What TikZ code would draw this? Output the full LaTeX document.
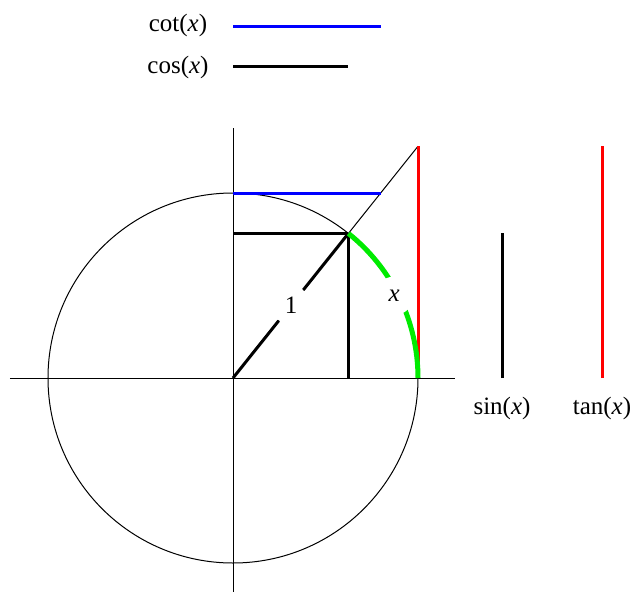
\documentclass[tikz,border=0pt]{standalone}
\usepackage{fontspec}
\setmainfont{Liberation Serif}
\usepackage{xcolor}
\usetikzlibrary{positioning}
\definecolor{arcgreen}{RGB}{0, 235, 0}
\definecolor{cotblue}{RGB}{0, 0, 255}
\definecolor{tanred}{RGB}{255, 0, 0}

\begin{document}
\begin{tikzpicture}[x=0.4pt, y=0.4pt,
    every node/.style={font=\fontsize{10}{12}\selectfont},
    thinline/.style={line width=0.4pt},
    fatline/.style={line width=1.2pt},
    gaplabel/.style={circle, fill=white, inner sep=0pt, minimum size=15.4pt}]
    % Picture frame
    \useasboundingbox (-233,-216) rectangle (399,378);

    % Angle and radius
    \def\ang{51.4}
    \def\rad{185}
    \pgfmathsetmacro{\cosv}{\rad*cos(\ang)}
    \pgfmathsetmacro{\sinv}{\rad*sin(\ang)}
    \pgfmathsetmacro{\tanv}{\rad*tan(\ang)}
    \pgfmathsetmacro{\cotv}{\rad*cot(\ang)}

    % Points
    \coordinate (O) at (0,0);
    \coordinate (P) at (\ang:\rad);
    \coordinate (C) at (0,\sinv);
    \coordinate (S) at (\cosv,0);
    \coordinate (A) at (\rad,0);
    \coordinate (T) at (\rad,\tanv);
    \coordinate (K0) at (0,\rad);
    \coordinate (K1) at (\cotv,\rad);
    \coordinate (xl) at (-223,0);
    \coordinate (xr) at (222,0);
    \coordinate (yt) at (0,250);
    \coordinate (yb) at (0,-214);

    % Axes and unit circle
    \draw[thinline] (xl) -- (xr);
    \draw[thinline] (yt) -- (yb);
    \draw[thinline] (O) circle (\rad);
    \draw[thinline] (O) -- (T);

    % Radius with its label
    \node[gaplabel] (one) at (\ang:93) {1};
    \draw[fatline] (O) -- (one) -- (P);

    % sin, cos, tan, cot in the circle
    \draw[fatline] (C) -- (P);
    \draw[fatline] (P) -- (S);
    \draw[fatline, tanred] (A) -- (T);
    \draw[fatline, cotblue] (K0) -- (K1);

    % Arc x
    \draw[line width=2pt, arcgreen] (A) arc (0:\ang:\rad);
    \node[gaplabel] (xlbl) at (27:181) {\textit{x}};

    % Legend
    \node (cotlbl) at (-55,353) {cot(\textit{x})};
    \node (coslbl) at (-55,311) {cos(\textit{x})};
    \coordinate (cota) at (0,351);
    \coordinate (cotb) at (\cotv,351);
    \coordinate (cosa) at (0,311);
    \coordinate (cosb) at (\cosv,311);
    \draw[fatline, cotblue] (cota) -- (cotb);
    \draw[fatline] (cosa) -- (cosb);

    % sin and tan on the right
    \coordinate (sa) at (269,0);
    \coordinate (sb) at (269,\sinv);
    \coordinate (ta) at (369,0);
    \coordinate (tb) at (369,\tanv);
    \draw[fatline] (sa) -- (sb);
    \draw[fatline, tanred] (ta) -- (tb);
    \node (sinlbl) at (269,-30) {sin(\textit{x})};
    \node (tanlbl) at (369,-30) {tan(\textit{x})};

\end{tikzpicture}
\end{document}
